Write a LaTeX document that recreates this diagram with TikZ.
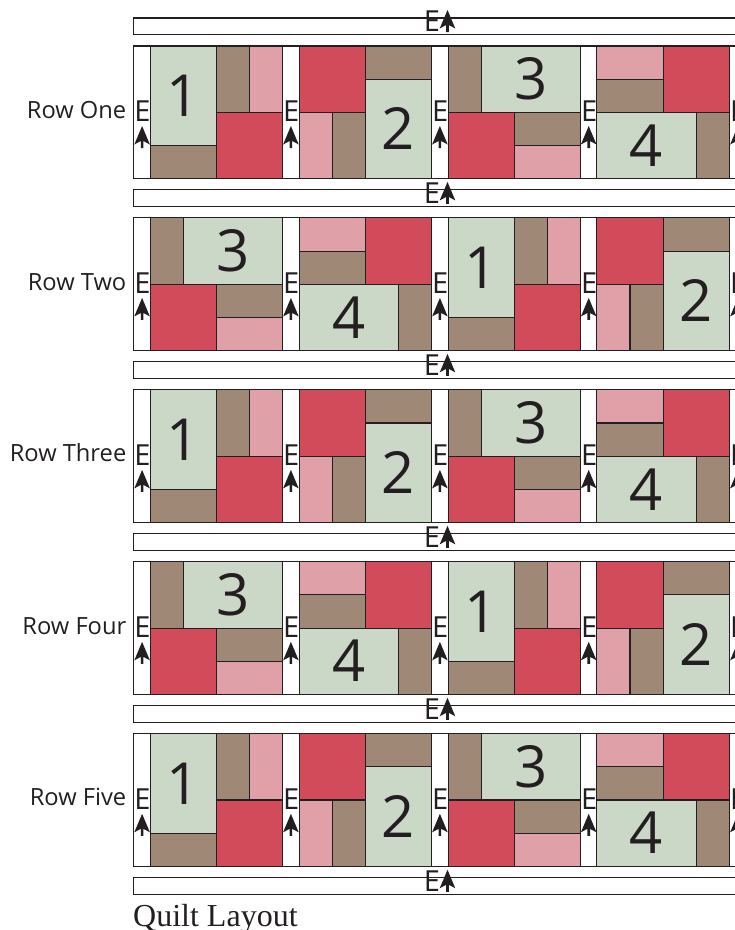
\documentclass[tikz,border=0pt]{standalone}
\usepackage{fontspec}
\setmainfont{Open Sans}
\newfontfamily\capfont{Liberation Serif}
\definecolor{qgreen}{HTML}{CBD8C8}
\definecolor{qbrown}{HTML}{A08876}
\definecolor{qred}{HTML}{D14B5B}
\definecolor{qpink}{HTML}{DFA0A8}
\definecolor{qink}{HTML}{231F20}
\tikzset{
  patch/.style={draw=qink,line width=1.05pt},
  sash/.style={draw=qink,line width=1.05pt,fill=white},
  sashletter/.style={inner sep=0pt,text=qink,font=\fontsize{29}{29}\selectfont},
  digit/.style={inner sep=0pt,text=qink,font=\fontsize{58}{58}\selectfont},
  rowlabel/.style={inner sep=0pt,anchor=base east,text=qink,font=\fontsize{23.7}{25}\selectfont},
  pics/grain/.style={code={
    \fill[qink] (0,0)--(7.8,18.5)--(1.3,15)--(1.3,22)--(-1.3,22)--(-1.3,15)--(-7.8,18.5)--cycle;}},
  pics/blockone/.style={code={
    \def\u{33.1}
    \draw[patch,fill=qgreen] (0,0) rectangle (2*\u,3*\u);
    \draw[patch,fill=qbrown] (0,3*\u) rectangle (2*\u,4*\u);
    \draw[patch,fill=qbrown] (2*\u,0) rectangle (3*\u,2*\u);
    \draw[patch,fill=qpink] (3*\u,0) rectangle (4*\u,2*\u);
    \draw[patch,fill=qred] (2*\u,2*\u) rectangle (4*\u,4*\u);
    \node[digit] (-n) at (\u,1.5*\u) {1};}},
  pics/blocktwo/.style={code={
    \def\u{33.1}
    \draw[patch,fill=qred] (0,0) rectangle (2*\u,2*\u);
    \draw[patch,fill=qpink] (0,2*\u) rectangle (\u,4*\u);
    \draw[patch,fill=qbrown] (\u,2*\u) rectangle (2*\u,4*\u);
    \draw[patch,fill=qbrown] (2*\u,0) rectangle (4*\u,\u);
    \draw[patch,fill=qgreen] (2*\u,\u) rectangle (4*\u,4*\u);
    \node[digit] (-n) at (3*\u,2.5*\u) {2};}},
  pics/blockthree/.style={code={
    \def\u{33.1}
    \draw[patch,fill=qbrown] (0,0) rectangle (\u,2*\u);
    \draw[patch,fill=qgreen] (\u,0) rectangle (4*\u,2*\u);
    \draw[patch,fill=qred] (0,2*\u) rectangle (2*\u,4*\u);
    \draw[patch,fill=qbrown] (2*\u,2*\u) rectangle (4*\u,3*\u);
    \draw[patch,fill=qpink] (2*\u,3*\u) rectangle (4*\u,4*\u);
    \node[digit] (-n) at (2.5*\u,\u) {3};}},
  pics/blockfour/.style={code={
    \def\u{33.1}
    \draw[patch,fill=qpink] (0,0) rectangle (2*\u,\u);
    \draw[patch,fill=qbrown] (0,\u) rectangle (2*\u,2*\u);
    \draw[patch,fill=qred] (2*\u,0) rectangle (4*\u,2*\u);
    \draw[patch,fill=qgreen] (0,2*\u) rectangle (3*\u,4*\u);
    \draw[patch,fill=qbrown] (3*\u,2*\u) rectangle (4*\u,4*\u);
    \node[digit] (-n) at (1.5*\u,3*\u) {4};}},
}
\begin{document}
\begin{tikzpicture}[x=1pt,y=-1pt]
\clip (0,0) rectangle (735,930);
% horizontal sashes
\foreach \i in {0,...,5}{
  \pgfmathsetmacro{\hy}{18+171.95*\i}
  \draw[sash] (133.6,\hy) rectangle (745,\hy+16.6);
  \node[sashletter] (hE\i) at (432,\hy+3) {E};
  \pic at (447.5,\hy-8) {grain};
}
% vertical sashes and blocks
\foreach \r/\ry/\aa/\ab/\ac/\ad in {
  1/46/blockone/blocktwo/blockthree/blockfour,
  2/217.95/blockthree/blockfour/blockone/blocktwo,
  3/389.9/blockone/blocktwo/blockthree/blockfour,
  4/561.85/blockthree/blockfour/blockone/blocktwo,
  5/733.8/blockone/blocktwo/blockthree/blockfour}{
  \foreach \c/\sx in {1/133.6,2/282.4,3/431.4,4/580.2,5/729.4}{
    \draw[sash] (\sx,\ry) rectangle (\sx+16.7,\ry+132.4);
    \node[sashletter] (vE\r\c) at (\sx+8.9,\ry+65.5) {E};
    \pic at (\sx+8.5,\ry+80) {grain};
  }
  \pic (b\r a) at (150.3,\ry) {\aa};
  \pic (b\r b) at (299.1,\ry) {\ab};
  \pic (b\r c) at (448.1,\ry) {\ac};
  \pic (b\r d) at (596.9,\ry) {\ad};
}
\node[rowlabel] (r1) at (126.5,118) {Row One};
\node[rowlabel] (r2) at (126.5,290) {Row Two};
\node[rowlabel] (r3) at (126.5,461) {Row Three};
\node[rowlabel] (r4) at (126.5,634) {Row Four};
\node[rowlabel] (r5) at (126.5,805) {Row Five};
\node[inner sep=0pt,anchor=base west,text=qink,font=\capfont\fontsize{32}{32}\selectfont] (cap) at (133,926) {Quilt Layout};
\end{tikzpicture}
\end{document}
